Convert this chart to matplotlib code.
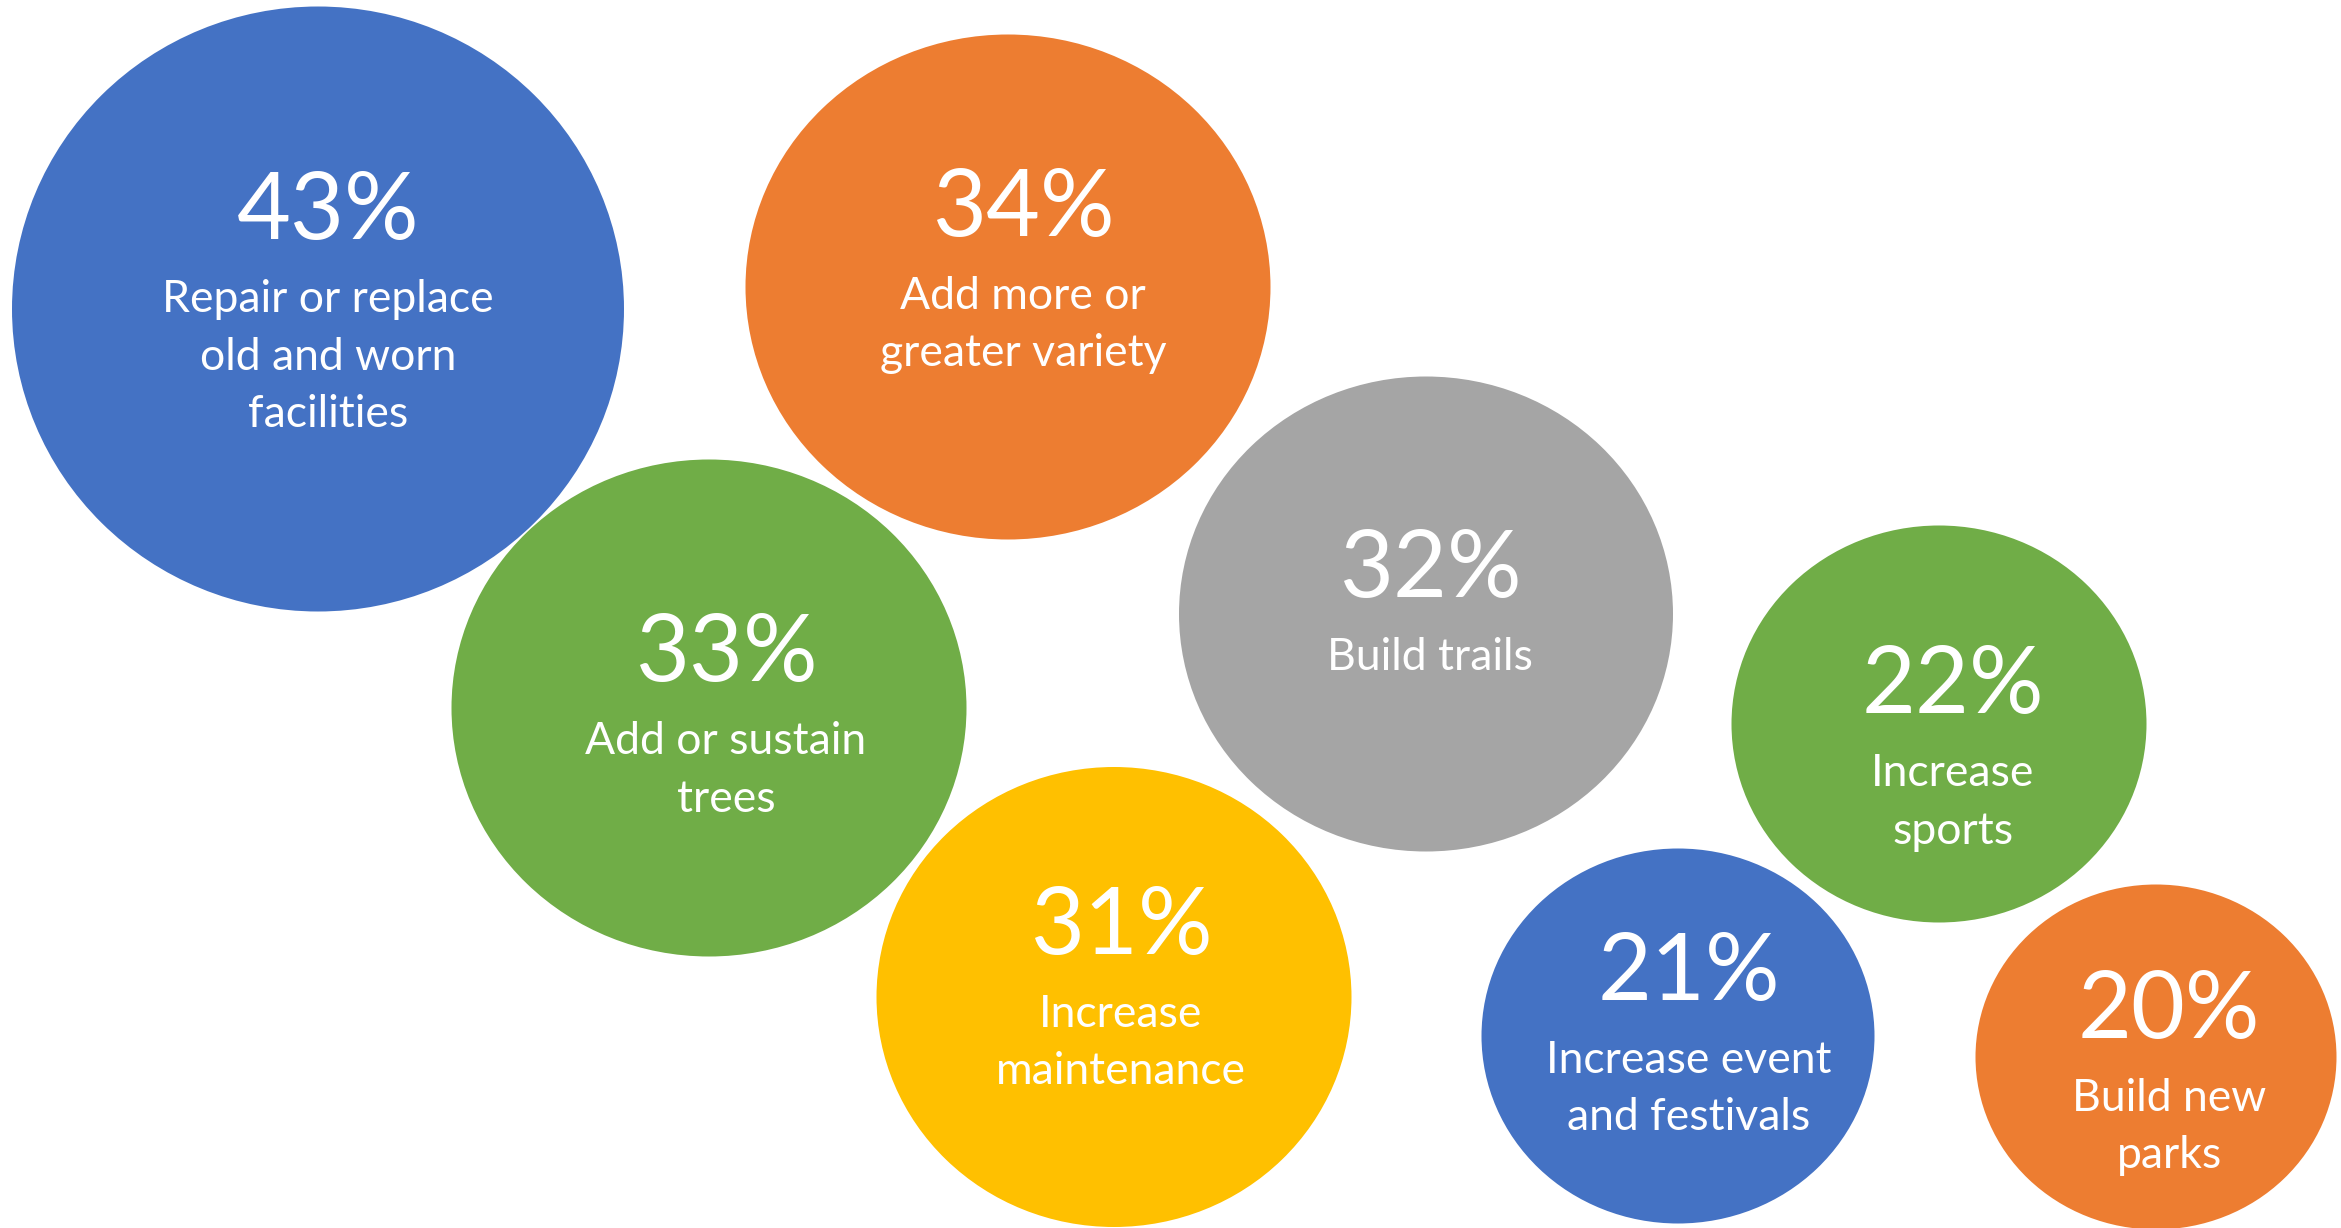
import matplotlib
matplotlib.use("Agg")
import matplotlib.pyplot as plt
from matplotlib.patches import Ellipse

# ---- data ----
values = [43, 34, 33, 32, 31, 22, 21, 20]
labels = [
    "Repair or replace\nold and worn\nfacilities",
    "Add more or\ngreater variety",
    "Add or sustain\ntrees",
    "Build trails",
    "Increase\nmaintenance",
    "Increase\nsports",
    "Increase event\nand festivals",
    "Build new\nparks",
]
colors = ["#4472C4", "#ED7D31", "#70AD47", "#A5A5A5",
          "#FFC000", "#70AD47", "#4472C4", "#ED7D31"]

# ---- layout (pixel coordinates, y down) ----
centers = [(318, 309), (1008, 287), (709, 708), (1426, 614),
           (1114, 997), (1939, 724), (1678, 1036), (2156, 1057)]
sizes = [(612, 605), (525, 505), (515, 497), (494, 475),
         (475, 460), (415, 397), (393, 375), (361, 345)]
text_pos = [(328, 206), (1023, 203), (726, 648), (1430, 564),
            (1121, 921), (1953, 680), (1689, 967), (2169, 1005)]

W, H = 2341, 1228
fig = plt.figure(figsize=(W / 100, H / 100), dpi=100)
ax = fig.add_axes([0, 0, 1, 1])
ax.set_xlim(0, W)
ax.set_ylim(H, 0)
ax.axis("off")

font = ["Lato", "DejaVu Sans"]
for i, (v, lab, c) in enumerate(zip(values, labels, colors)):
    (cx, cy), (w, h) = centers[i], sizes[i]
    ax.add_patch(Ellipse((cx, cy), w, h, facecolor=c, edgecolor="none", zorder=i + 1))
    tx, ty = text_pos[i]
    ax.text(tx, ty + 33, f"{v}%", ha="center", va="baseline", color="white",
            fontsize=67, family=font, zorder=20)
    for j, line in enumerate(lab.split("\n")):
        ax.text(tx, ty + 90 + 16 + j * 57.5, line, ha="center", va="baseline",
                color="white", fontsize=32, family=font, zorder=20)

fig.savefig("out.png", dpi=100)
